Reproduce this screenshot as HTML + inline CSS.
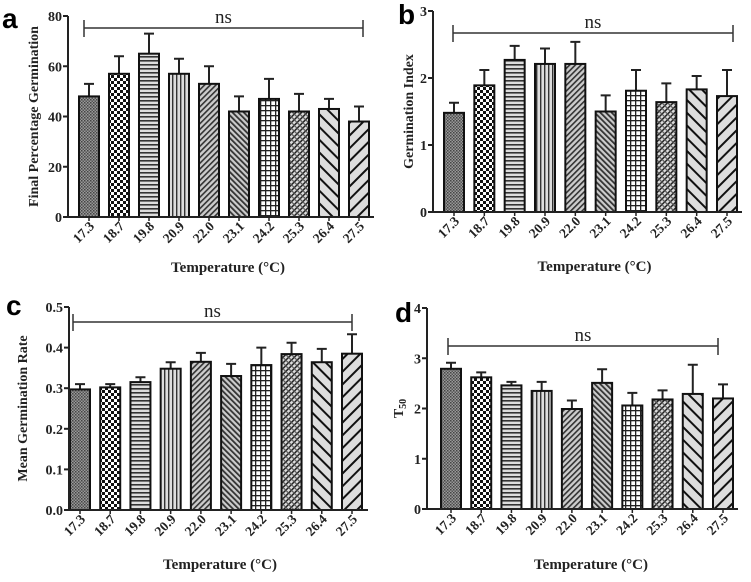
<!DOCTYPE html>
<html><head><meta charset="utf-8">
<style>
body{margin:0;background:#fff;}
svg text{font-family:"Liberation Serif",serif;font-weight:bold;fill:#222;}
svg text.ns{font-weight:normal;}
</style></head>
<body>
<svg id="fig" width="751" height="577" viewBox="0 0 751 577" xmlns="http://www.w3.org/2000/svg">
<defs>
<pattern id="p0" width="3" height="3" patternUnits="userSpaceOnUse"><rect width="3" height="3" fill="#999"/><rect width="1.5" height="1.5" fill="#444"/><rect x="1.5" y="1.5" width="1.5" height="1.5" fill="#555"/></pattern>
<pattern id="p1" width="6" height="6" patternUnits="userSpaceOnUse"><rect width="6" height="6" fill="#fff"/><rect width="3" height="3" fill="#111"/><rect x="3" y="3" width="3" height="3" fill="#111"/></pattern>
<pattern id="p2" width="4" height="4" patternUnits="userSpaceOnUse"><rect width="4" height="4" fill="#ddd"/><rect y="0" width="4" height="1.6" fill="#333"/></pattern>
<pattern id="p3" width="4" height="4" patternUnits="userSpaceOnUse"><rect width="4" height="4" fill="#ddd"/><rect x="0" width="1.4" height="4" fill="#333"/></pattern>
<pattern id="p4" width="4" height="4" patternUnits="userSpaceOnUse" patternTransform="rotate(45)"><rect width="4" height="4" fill="#ccc"/><rect width="1.6" height="4" fill="#333"/></pattern>
<pattern id="p5" width="4" height="4" patternUnits="userSpaceOnUse" patternTransform="rotate(-45)"><rect width="4" height="4" fill="#ccc"/><rect width="1.8" height="4" fill="#333"/></pattern>
<pattern id="p6" width="5" height="5" patternUnits="userSpaceOnUse"><rect width="5" height="5" fill="#fff"/><rect width="5" height="1.3" fill="#222"/><rect width="1.3" height="5" fill="#222"/></pattern>
<pattern id="p7" width="4" height="4" patternUnits="userSpaceOnUse" patternTransform="rotate(45)"><rect width="4" height="4" fill="#ddd"/><rect width="1.5" height="4" fill="#222"/><rect width="4" height="1.2" fill="#555"/></pattern>
<pattern id="p8" width="9" height="9" patternUnits="userSpaceOnUse" patternTransform="rotate(-45)"><rect width="9" height="9" fill="#ddd"/><rect width="2" height="9" fill="#111"/></pattern>
<pattern id="p9" width="9" height="9" patternUnits="userSpaceOnUse" patternTransform="rotate(45)"><rect width="9" height="9" fill="#ddd"/><rect width="2" height="9" fill="#111"/></pattern>
</defs>
</svg>
<script>
const categories = ["17.3","18.7","19.8","20.9","22.0","23.1","24.2","25.3","26.4","27.5"];
const fpgValues = [48,57,65,57,53,42,47,42,43,38];
const fpgErrTop = [53,64,73,63,60,48,55,49,47,44];
const fpgTicks = [0,20,40,60,80];
const giValues = [1.48,1.89,2.27,2.21,2.21,1.50,1.81,1.64,1.83,1.73];
const giErrTop = [1.63,2.12,2.48,2.44,2.54,1.74,2.12,1.92,2.03,2.12];
const giTicks = [0,1,2,3];
const mgrValues = [0.297,0.302,0.315,0.348,0.365,0.330,0.357,0.384,0.364,0.385];
const mgrErrTop = [0.310,0.310,0.327,0.364,0.387,0.360,0.400,0.412,0.397,0.433];
const mgrTicks = ["0.0","0.1","0.2","0.3","0.4","0.5"];
const t50Values = [2.79,2.62,2.46,2.35,1.99,2.51,2.06,2.18,2.29,2.20];
const t50ErrTop = [2.91,2.72,2.53,2.53,2.16,2.78,2.31,2.36,2.87,2.48];
const t50Ticks = [0,1,2,3,4];

const NS="http://www.w3.org/2000/svg";
const svg=document.getElementById('fig');
function el(tag,attrs,parent){const e=document.createElementNS(NS,tag);for(const k in attrs)e.setAttribute(k,attrs[k]);(parent||svg).appendChild(e);return e;}

function panel(cfg){
  const g=el('g',{});
  
  
  const ticks=cfg.ticks.map(Number);
  const ymax=ticks[ticks.length-1];
  const Y=v=>cfg.y0-(v/ymax)*(cfg.y0-cfg.yTop);
  const step=(cfg.xl-cfg.xf)/(categories.length-1);
  const X=i=>cfg.xf+i*step;
  cfg.values.forEach((v,i)=>{
    const cx=X(i), top=Y(cfg.err[i]);
    const eb=el('path',{d:`M${cx} ${Y(v)}V${top}M${cx-5} ${top}H${cx+5}`,stroke:'#222','stroke-width':2,fill:'none'},g);
    
    
    const r=el('rect',{x:cx-10,y:Y(v),width:20,height:cfg.y0-Y(v),fill:`url(#p${i})`,stroke:'#111','stroke-width':2},g);
    
    
    const tl=el('text',{x:0,y:0,'font-size':13.5,'text-anchor':'end',transform:`translate(${cx+6},${cfg.y0+10}) rotate(-45)`},g);
    tl.textContent=categories[i];
    
    
    el('line',{x1:cx,x2:cx,y1:cfg.y0,y2:cfg.y0+4,stroke:'#222','stroke-width':1.5},g);
  });
  const ax=el('path',{d:`M${cfg.ax} ${cfg.yTop}V${cfg.y0}H${cfg.axEnd}`,stroke:'#222','stroke-width':2,fill:'none'},g);
  
  
  cfg.ticks.forEach(t=>{
    const y=Y(Number(t));
    el('line',{x1:cfg.ax-5,x2:cfg.ax,y1:y,y2:y,stroke:'#222','stroke-width':2},g);
    const tt=el('text',{x:cfg.ax-6,y:y+5,'font-size':14,'text-anchor':'end'},g);
    tt.textContent=t;
    
    
  });
  const br=el('path',{d:`M${cfg.bx1} ${cfg.by-8}V${cfg.by+9}M${cfg.bx1} ${cfg.by}H${cfg.bx2}M${cfg.bx2} ${cfg.by-8}V${cfg.by+9}`,stroke:'#333','stroke-width':1.5,fill:'none'},g);
  
  
  const ns=el('text',{x:(cfg.bx1+cfg.bx2)/2,y:cfg.by-5,'font-size':19,'text-anchor':'middle','class':'ns'},g);
  ns.textContent='ns';
  
  
  const xt=el('text',{x:(cfg.xf+cfg.xl)/2+4,y:cfg.xTitleY,'font-size':15,'text-anchor':'middle'},g);
  xt.textContent='Temperature (°C)';
  
  
  const yt=el('text',{x:0,y:0,'font-size':14,'text-anchor':'middle',transform:`translate(${cfg.yTitleX},${(cfg.y0+cfg.yTop)/2}) rotate(-90)`},g);
  yt.innerHTML=cfg.ytitle;
  
  
  const lb=el('text',{x:cfg.lx,y:cfg.ly,'font-size':28,'style':'font-family:"Liberation Sans",sans-serif;font-weight:bold;fill:#000'},g);
  lb.textContent=cfg.letter;
  
  
}

panel({name:'panel-a',values:fpgValues,err:fpgErrTop,ticks:fpgTicks,y0:217,yTop:16,xf:89,xl:359,ax:68,axEnd:374,bx1:84,bx2:363,by:28,xTitleY:272,yTitleX:38,ytitle:'Final Percentage Germination',letter:'a',lx:2,ly:28});
panel({name:'panel-b',values:giValues,err:giErrTop,ticks:giTicks,y0:212,yTop:11,xf:454,xl:727,ax:433,axEnd:742,bx1:453,bx2:733,by:33,xTitleY:271,yTitleX:413,ytitle:'Germination Index',letter:'b',lx:398,ly:24});
panel({name:'panel-c',values:mgrValues,err:mgrErrTop,ticks:mgrTicks,y0:510,yTop:307,xf:80,xl:352,ax:69,axEnd:368,bx1:73,bx2:352,by:322,xTitleY:569,yTitleX:27,ytitle:'Mean Germination Rate',letter:'c',lx:6,ly:315});
panel({name:'panel-d',values:t50Values,err:t50ErrTop,ticks:t50Ticks,y0:509,yTop:308,xf:451,xl:723,ax:427,axEnd:738,bx1:448,bx2:718,by:346,xTitleY:569,yTitleX:403,ytitle:'T<tspan font-size="10" dy="3">50</tspan>',letter:'d',lx:395,ly:322});
</script>
</body></html>
